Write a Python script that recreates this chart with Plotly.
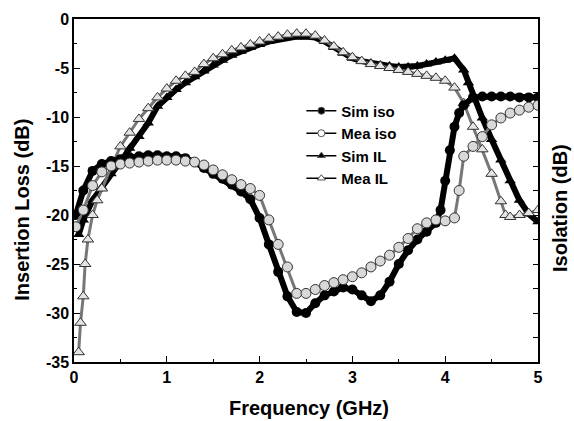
import plotly.graph_objects as go

# ---- data ----
sim_iso_x = [0.02, 0.1, 0.2, 0.3, 0.4, 0.5, 0.6, 0.7, 0.8, 0.9, 1.0, 1.1, 1.2, 1.3, 1.4, 1.5,
             1.6, 1.7, 1.8, 1.9, 2.0, 2.1, 2.2, 2.3, 2.4, 2.5, 2.6, 2.7, 2.8, 2.9, 3.0, 3.1,
             3.2, 3.3, 3.4, 3.5, 3.6, 3.7, 3.8, 3.9, 3.95, 4.0, 4.05, 4.1, 4.15, 4.2, 4.3,
             4.4, 4.5, 4.6, 4.7, 4.8, 4.9, 5.0]
sim_iso_y = [-20.0, -17.5, -15.5, -14.8, -14.5, -14.3, -14.1, -14.0, -13.9, -13.9, -14.0, -14.0,
             -14.2, -14.6, -15.2, -15.8, -16.3, -16.9, -17.6, -18.4, -20.3, -23.0, -25.8, -28.3,
             -29.9, -30.0, -29.0, -28.2, -27.8, -27.4, -27.6, -28.2, -28.8, -28.2, -26.8, -25.0,
             -23.6, -22.5, -21.7, -20.8, -19.5, -16.5, -13.4, -11.0, -9.6, -8.8, -8.0, -7.9,
             -7.9, -7.9, -7.9, -8.0, -8.0, -8.0]

mea_iso_x = [0.02, 0.1, 0.2, 0.3, 0.4, 0.5, 0.6, 0.7, 0.8, 0.9, 1.0, 1.1, 1.2, 1.3, 1.4, 1.5,
             1.6, 1.7, 1.8, 1.9, 2.0, 2.1, 2.2, 2.3, 2.4, 2.5, 2.6, 2.7, 2.8, 2.9, 3.0, 3.1,
             3.2, 3.3, 3.4, 3.5, 3.6, 3.7, 3.8, 3.9, 4.0, 4.1, 4.15, 4.2, 4.3, 4.4, 4.5, 4.6,
             4.7, 4.8, 4.9, 5.0]
mea_iso_y = [-21.2, -19.5, -17.0, -15.6, -15.0, -14.8, -14.7, -14.6, -14.5, -14.4, -14.4, -14.4,
             -14.5, -14.6, -14.9, -15.4, -15.9, -16.4, -16.9, -17.3, -18.0, -20.5, -23.0, -25.3,
             -28.0, -28.0, -27.6, -27.2, -26.9, -26.6, -26.3, -25.9, -25.3, -24.7, -24.1, -23.3,
             -22.4, -21.4, -20.8, -20.5, -20.6, -20.3, -17.5, -14.0, -13.0, -12.0, -10.8, -10.1,
             -9.6, -9.3, -9.0, -8.8]

sim_il_x = [0.05, 0.1, 0.2, 0.3, 0.4, 0.5, 0.6, 0.7, 0.8, 0.9, 1.0, 1.1, 1.2, 1.3, 1.4, 1.5,
            1.6, 1.7, 1.8, 1.9, 2.0, 2.1, 2.2, 2.3, 2.4, 2.5, 2.6, 2.7, 2.8, 2.9, 3.0, 3.1,
            3.2, 3.3, 3.4, 3.5, 3.6, 3.7, 3.8, 3.9, 4.0, 4.1, 4.2, 4.25, 4.3, 4.4, 4.5, 4.6,
            4.7, 4.8, 4.9, 5.0]
sim_il_y = [-22.0, -20.5, -18.5, -17.2, -15.8, -14.5, -13.2, -12.0, -10.6, -8.9, -8.0, -7.2,
            -6.5, -5.9, -5.3, -4.7, -4.2, -3.7, -3.3, -2.9, -2.6, -2.3, -2.1, -1.9, -1.8, -1.8,
            -1.9, -2.3, -2.9, -3.5, -4.0, -4.3, -4.5, -4.7, -4.8, -4.9, -4.9, -4.8, -4.6, -4.4,
            -4.2, -4.0, -5.2, -6.5, -7.9, -10.1, -12.3, -14.4, -16.5, -18.5, -19.9, -20.7]

mea_il_x = [0.05, 0.07, 0.1, 0.12, 0.15, 0.2, 0.25, 0.3, 0.4, 0.5, 0.6, 0.7, 0.8, 0.9, 1.0,
            1.1, 1.2, 1.3, 1.4, 1.5, 1.6, 1.7, 1.8, 1.9, 2.0, 2.1, 2.2, 2.3, 2.4, 2.5, 2.6,
            2.7, 2.8, 2.9, 3.0, 3.1, 3.2, 3.3, 3.4, 3.5, 3.6, 3.7, 3.8, 3.9, 4.0, 4.1, 4.2,
            4.3, 4.4, 4.5, 4.6, 4.65, 4.7, 4.8, 4.9, 5.0]
mea_il_y = [-34.0, -31.0, -28.3, -25.0, -22.5, -20.0, -18.5, -17.3, -15.1, -13.0, -11.6, -10.2,
            -9.1, -8.0, -7.1, -6.3, -5.8, -5.4, -4.6, -4.0, -3.6, -3.2, -2.9, -2.6, -2.3, -2.0,
            -1.8, -1.6, -1.5, -1.5, -1.7, -2.2, -2.8, -3.4, -3.9, -4.3, -4.6, -4.8, -5.0, -5.2,
            -5.4, -5.6, -5.8, -6.0, -6.3, -7.0, -8.6, -11.0, -13.3, -15.8, -18.6, -20.0, -20.2,
            -20.0, -19.8, -19.5]

x_ticks = [0, 1, 2, 3, 4, 5]
y_ticks = [0, -5, -10, -15, -20, -25, -30, -35]
legend_names = ["Sim iso", "Mea iso", "Sim IL", "Mea IL"]

FONT = "Liberation Sans, Arial, sans-serif"

sim_line = dict(color="black", width=6)
mea_line = dict(color="#777777", width=3)
mea_marker_line = dict(color="#333333", width=1)

fig = go.Figure()
# data traces (thick bands, no legend entries)
fig.add_trace(go.Scatter(x=sim_iso_x, y=sim_iso_y, yaxis="y2", showlegend=False,
                         mode="lines+markers", line=sim_line,
                         marker=dict(symbol="circle", size=10, color="black")))
fig.add_trace(go.Scatter(x=mea_iso_x, y=mea_iso_y, yaxis="y2", showlegend=False,
                         mode="lines+markers", line=mea_line,
                         marker=dict(symbol="circle", size=10, color="#d8d8d8",
                                     line=mea_marker_line)))
fig.add_trace(go.Scatter(x=sim_il_x, y=sim_il_y, showlegend=False,
                         mode="lines+markers", line=sim_line,
                         marker=dict(symbol="triangle-up", size=10, color="black")))
fig.add_trace(go.Scatter(x=mea_il_x, y=mea_il_y, showlegend=False,
                         mode="lines+markers", line=mea_line,
                         marker=dict(symbol="triangle-up", size=10, color="#e4e4e4",
                                     line=mea_marker_line)))

# legend entries (thin line + small marker, like the reference legend)
leg_symbols = ["circle", "circle", "triangle-up", "triangle-up"]
leg_fill = ["black", "white", "black", "white"]
for name, sym, fill in zip(legend_names, leg_symbols, leg_fill):
    fig.add_trace(go.Scatter(x=[None], y=[None], name=name, mode="lines+markers",
                             line=dict(color="black", width=1.5),
                             marker=dict(symbol=sym, size=7, color=fill,
                                         line=dict(color="#555555", width=1))))

fig.update_layout(
    width=574, height=421,
    margin=dict(l=74, r=36, t=19, b=59),
    paper_bgcolor="white", plot_bgcolor="white",
    font=dict(family=FONT, color="black", size=16, weight="bold"),
    showlegend=True,
    legend=dict(x=0.49, y=0.78, xanchor="left", yanchor="top",
                bgcolor="rgba(0,0,0,0)", font=dict(size=15, family=FONT, weight="bold"),
                tracegroupgap=0, itemsizing="trace"),
    xaxis=dict(range=[0, 5], tickvals=x_ticks, ticktext=[str(v) for v in x_ticks],
               ticks="inside", ticklen=6, tickwidth=1.2, tickcolor="black",
               showline=True, linecolor="black", linewidth=1.5, mirror=True,
               showgrid=False, zeroline=False,
               minor=dict(dtick=0.5, ticks="inside", ticklen=3, tickcolor="black", showgrid=False),
               tickfont=dict(size=16, family=FONT, weight="bold")),
    yaxis=dict(range=[-35, 0], tickvals=y_ticks, ticktext=[str(v) for v in y_ticks],
               ticks="inside", ticklen=6, tickwidth=1.2, tickcolor="black",
               showline=True, linecolor="black", linewidth=1.5,
               showgrid=False, zeroline=False,
               minor=dict(dtick=2.5, ticks="inside", ticklen=3, tickcolor="black", showgrid=False),
               tickfont=dict(size=16, family=FONT, weight="bold")),
    yaxis2=dict(range=[-35, 0], overlaying="y", side="right", dtick=2.5,
                ticks="inside", ticklen=5, tickcolor="black", showticklabels=False,
                showline=True, linecolor="black", linewidth=1.5,
                showgrid=False, zeroline=False),
    annotations=[
        dict(text="Insertion Loss (dB)", xref="paper", yref="paper", x=-0.1127, y=0.443,
             xanchor="center", yanchor="middle", textangle=-90, showarrow=False,
             font=dict(size=20, family=FONT, weight="bold")),
        dict(text="Isolation (dB)", xref="paper", yref="paper", x=1.0474, y=0.449,
             xanchor="center", yanchor="middle", textangle=-90, showarrow=False,
             font=dict(size=20, family=FONT, weight="bold")),
        dict(text="Frequency (GHz)", xref="paper", yref="paper", x=0.506, y=-0.134,
             xanchor="center", yanchor="middle", showarrow=False,
             font=dict(size=20, family=FONT, weight="bold")),
    ],
)

fig.write_html("out.html")
